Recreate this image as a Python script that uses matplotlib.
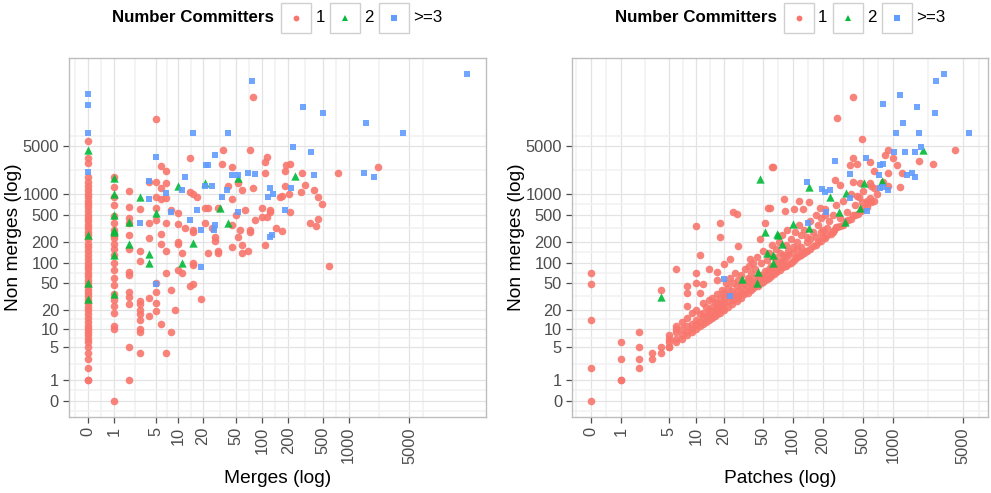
import numpy as np
import matplotlib.pyplot as plt
from matplotlib.patches import Rectangle
from matplotlib.lines import Line2D

plt.rcParams['font.family'] = ['Liberation Sans', 'DejaVu Sans']

# (merges, non merges) per project, by number of committers
merges_one = (
    [(0, v) for v in [1, 1, 2, 3, 4, 5, 6, 7, 8, 9, 10, 11, 13, 15, 17, 20, 22, 25, 28, 32, 36, 40,
                      45, 50, 56, 63, 70, 80, 90, 100, 115, 130, 150, 170, 190, 220, 250, 280, 320,
                      360, 400, 450, 500, 560, 640, 720, 800, 900, 1000, 1150, 1300, 1500, 1800,
                      2800, 3300, 6000]]
    + [(1, v) for v in [0, 10, 11, 18, 23, 28, 35, 47, 60, 78, 100, 130, 160, 190, 230, 250, 300,
                        380, 480, 700, 900, 1250, 1800]]
    + [(2, v) for v in [1, 5, 24, 31, 37, 65, 72, 160, 250, 380, 450, 650, 1100]]
    + [(3, v) for v in [4, 9, 10, 14, 17, 20, 24, 27, 105, 150, 600]]
    + [(4, v) for v in [16, 30, 230, 380, 1500]]
    + [(5, v) for v in [19, 25, 37, 50, 415, 620, 900, 1500, 12500]]
    + [(6, v) for v in [12, 190, 260, 840, 1220, 2600]]
    + [(7, v) for v in [4, 70, 150, 375, 880, 1450, 2200]]
    + [(8, 9), (8, 40), (8, 580), (9, 20), (10, 77), (10, 190), (10, 200), (10, 370), (10, 540),
       (11, 70), (11, 137), (12, 320), (14, 46), (14, 1060), (14, 3400), (15, 49), (15, 91),
       (15, 100), (15, 280), (15, 300), (15, 1000), (17, 900), (19, 29), (21, 375), (21, 620),
       (23, 137), (23, 620), (26, 320), (28, 210), (28, 236), (30, 137), (30, 150), (30, 620),
       (34, 2700), (35, 4350), (40, 1300), (45, 170), (45, 355), (45, 840), (45, 2450), (49, 500),
       (52, 236), (52, 1440), (55, 300), (58, 137), (58, 180), (58, 1150), (63, 580), (68, 150),
       (72, 280), (72, 300), (72, 4350), (78, 1220), (78, 25700), (83, 415), (100, 460),
       (100, 620), (108, 180), (108, 2000), (108, 2900), (113, 460), (113, 3450), (123, 545),
       (123, 580), (145, 320), (160, 900), (170, 290), (170, 950), (185, 1300), (185, 2200),
       (190, 2640), (204, 1000), (210, 545), (210, 2700), (280, 1060), (290, 2000), (315, 1350),
       (360, 375), (395, 1150), (420, 340), (440, 430), (440, 900), (490, 730), (590, 88),
       (750, 2000), (2150, 2500)]
)
merges_two = [(0, 29), (0, 50), (0, 250), (0, 4400), (1, 35), (1, 130), (1, 280), (1, 300),
              (1, 490), (1, 1000), (1, 1700), (2, 190), (2, 390), (3, 900), (4, 100), (4, 135),
              (5, 540), (10, 1300), (11, 100), (15, 192), (21, 1450), (32, 620), (40, 380),
              (52, 1700), (240, 1850)]
merges_three = [(0, 2100), (0, 7700), (0, 20000), (0, 28400), (3, 380), (4, 840), (4, 1550),
                (5, 49), (5, 3450), (7, 1050), (8, 545), (11, 1150), (12, 1800), (14, 415),
                (15, 7700), (17, 580), (19, 85), (19, 300), (21, 1300), (22, 2640), (23, 2640),
                (26, 1300), (27, 300), (28, 355), (28, 3700), (34, 900), (39, 1150), (40, 7800),
                (45, 1900), (52, 545), (52, 1900), (68, 2000), (76, 44000), (83, 1950), (116, 900),
                (123, 236), (123, 1220), (130, 250), (135, 1000), (186, 580), (215, 1220),
                (230, 4800), (300, 18500), (370, 4100), (395, 1900), (510, 15000), (1500, 2000),
                (1600, 10700), (1950, 1800), (4200, 7800), (23000, 55000)]

# (patches, non merges) per project
patches_one = [
    (0, 0), (0, 2), (0, 14), (0, 48), (0, 70), (1, 1), (1, 1), (1, 3), (1, 6), (2, 2), (2, 3),
    (2, 5), (2, 9), (3, 3), (3, 4), (4, 4), (4, 5), (4, 40), (5, 5), (5, 7), (6, 9), (6, 11),
    (6, 82), (8, 23), (8, 36), (8, 46), (10, 51), (10, 70), (10, 340), (11, 36), (11, 130),
    (12, 48), (14, 80), (17, 55), (17, 72), (18, 236), (18, 375), (20, 95), (23, 115), (25, 545),
    (27, 510), (28, 174), (37, 115), (47, 220), (53, 375), (57, 620), (59, 620), (62, 2450),
    (64, 2450), (82, 840), (84, 560), (103, 600), (116, 800), (127, 600), (146, 760), (189, 620),
    (210, 490), (266, 1600), (278, 12800), (298, 1350), (375, 2640), (400, 1500), (400, 3300),
    (400, 25700), (440, 950), (440, 2700), (470, 1440), (494, 760), (494, 6300), (555, 740),
    (595, 870), (595, 1440), (595, 2900), (640, 1220), (640, 2200), (840, 3700), (900, 2000),
    (900, 4400), (1000, 3300), (1100, 2640), (1180, 1250), (1230, 2050), (1800, 3000),
    (2500, 2700), (4100, 4350),
    (5, 5), (5, 6), (6, 6), (6, 7), (7, 7), (7, 8), (7, 10), (8, 8), (8, 9), (8, 11), (9, 9),
    (9, 10), (9, 12), (10, 10), (10, 12), (10, 14), (11, 11), (11, 13), (12, 12), (12, 15),
    (12, 18), (13, 13), (13, 16), (14, 14), (14, 17), (14, 20), (15, 15), (15, 18), (15, 22),
    (16, 16), (16, 20), (17, 17), (17, 21), (17, 25), (18, 18), (18, 23), (19, 20), (19, 24),
    (20, 20), (20, 25), (20, 30), (22, 22), (22, 27), (22, 33), (24, 24), (24, 30), (25, 28),
    (25, 35), (27, 27), (27, 32), (28, 30), (28, 38), (30, 30), (30, 36), (30, 45), (32, 34),
    (33, 40), (35, 36), (35, 44), (36, 55), (38, 40), (38, 48), (40, 42), (40, 52), (42, 45),
    (42, 60), (45, 46), (45, 55), (48, 50), (48, 65), (50, 52), (50, 62), (52, 56), (55, 58),
    (55, 70), (58, 60), (58, 80), (60, 64), (62, 75), (65, 68), (65, 90), (68, 72), (70, 75),
    (70, 95), (72, 85), (75, 78), (78, 100), (80, 85), (80, 110), (85, 90), (85, 120), (90, 95),
    (90, 130), (95, 100), (100, 105), (100, 140), (105, 115), (110, 120), (110, 160), (115, 125),
    (120, 130), (120, 170), (125, 140), (130, 140), (135, 150), (140, 150), (140, 200),
    (150, 160), (150, 220), (160, 175), (170, 180), (170, 240), (180, 200), (190, 210),
    (190, 280), (200, 240), (210, 230), (220, 250), (220, 320), (240, 260), (250, 280),
    (260, 300), (270, 330), (280, 330), (300, 340), (320, 360), (340, 400), (360, 420),
    (380, 440), (400, 500), (420, 500), (450, 520), (480, 560), (500, 620), (550, 650),
    (600, 760), (650, 800),
    (5, 8), (6, 10), (7, 13), (8, 15), (9, 18), (10, 20), (11, 17), (12, 25), (13, 22), (14, 28),
    (15, 30), (16, 26), (17, 35), (18, 30), (19, 40), (20, 36), (21, 50), (22, 42), (23, 60),
    (24, 38), (25, 50), (26, 70), (27, 45), (28, 55), (30, 65), (32, 50), (33, 80), (35, 60),
    (36, 90), (38, 70), (40, 100), (42, 80), (44, 120), (46, 65), (48, 100), (50, 150), (52, 75),
    (55, 110), (58, 140), (60, 90), (62, 180), (65, 120), (68, 160), (70, 110), (72, 200),
    (75, 140), (78, 250), (80, 130), (85, 180), (88, 300), (90, 150), (95, 220), (100, 170),
    (105, 280), (110, 200), (115, 350), (120, 250), (130, 300), (140, 240), (150, 400),
    (160, 280), (170, 500), (180, 350), (190, 450), (200, 300), (210, 600), (230, 400),
    (250, 500), (270, 700), (300, 450), (320, 800), (350, 550), (380, 1000), (420, 700),
    (460, 900), (500, 1100), (550, 800), (600, 1300), (700, 1000), (800, 1500), (900, 1300)]
patches_two = [(4, 31), (31, 57), (44, 50), (45, 72), (47, 1650), (53, 280), (55, 137), (64, 100),
               (64, 130), (70, 260), (71, 250), (78, 185), (100, 365), (146, 320), (146, 1250),
               (237, 900), (291, 545), (334, 390), (342, 1030), (470, 620), (518, 1440),
               (785, 1550), (1980, 4350)]
patches_three = [(20, 57), (23, 32), (139, 1500), (142, 375), (197, 1200), (210, 1060), (216, 545),
                 (237, 1150), (266, 3000), (375, 870), (375, 1950), (542, 3300), (555, 560),
                 (720, 1900), (750, 1220), (750, 2640), (800, 1250), (800, 2700), (800, 20500),
                 (900, 1150), (1030, 4100), (1080, 7700), (1180, 28000), (1260, 10700),
                 (1320, 4100), (1380, 1900), (1530, 2000), (1650, 1750), (1650, 4100),
                 (1740, 18500), (1800, 7800), (1900, 4800), (2640, 15000), (2700, 44000),
                 (3240, 55000), (5700, 7800)]

breaks = [0, 1, 5, 10, 20, 50, 100, 200, 500, 1000, 5000]
groups = ['1', '2', '>=3']
colors = ['#F8766D', '#00BA38', '#619CFF']
markers = ['o', '^', 's']
sizes = [30, 36, 25]


def fwd(v):
    return np.log10(np.clip(np.asarray(v, dtype=float) + 1, 1e-12, None))


def inv(t):
    return 10 ** np.asarray(t, dtype=float) - 1


def limits(vals):
    t = fwd(vals)
    span = t.max() - t.min()
    return t.min() - 0.05 * span, t.max() + 0.05 * span


def minor_breaks(lo, hi):
    b = list(fwd(breaks))
    bd = b[1] - b[0]
    if lo < b[0]:
        b = [b[0] - bd] + b
    if hi > b[-1]:
        b = b + [b[-1] + bd]
    mids = [(a + c) / 2 for a, c in zip(b[:-1], b[1:])]
    return [m for m in mids if lo <= m <= hi]


W, H = 991, 493
fig = plt.figure(figsize=(W / 100, H / 100), dpi=100)
ax1 = fig.add_axes([69 / W, 76 / H, 417 / W, 359 / H])
ax2 = fig.add_axes([572 / W, 76 / H, 416 / W, 359 / H])

panels = [(ax1, [merges_one, merges_two, merges_three], 'Merges (log)'),
          (ax2, [patches_one, patches_two, patches_three], 'Patches (log)')]

all_y = [p[1] for s in (merges_one, merges_two, merges_three,
                        patches_one, patches_two, patches_three) for p in s]
ylo, yhi = limits(all_y)

for ax, series, xlabel in panels:
    for pts, c, m, s in zip(series, colors, markers, sizes):
        xs = [p[0] for p in pts]
        ys = [p[1] for p in pts]
        ax.scatter(xs, ys, s=s, c=c, marker=m, linewidths=0, alpha=0.9, zorder=3)
    ax.set_xscale('function', functions=(fwd, inv))
    ax.set_yscale('function', functions=(fwd, inv))
    xlo, xhi = limits([p[0] for pts in series for p in pts])
    ax.set_xlim(inv(xlo), inv(xhi))
    ax.set_ylim(inv(ylo), inv(yhi))
    ax.set_xticks(breaks)
    ax.set_xticklabels([str(b) for b in breaks], rotation=90)
    ax.set_yticks(breaks)
    ax.set_yticklabels([str(b) for b in breaks])
    ax.set_xticks(inv(minor_breaks(xlo, xhi)), minor=True)
    ax.set_yticks(inv(minor_breaks(ylo, yhi)), minor=True)
    ax.grid(which='major', color='#E3E3E3', lw=0.9, zorder=0)
    ax.grid(which='minor', color='#F1F1F1', lw=1.1, zorder=0)
    ax.set_axisbelow(True)
    ax.tick_params(which='major', length=4.5, width=0.9, color='#4D4D4D', pad=2.7,
                   labelsize=11.8, labelcolor='#4D4D4D')
    ax.tick_params(which='minor', length=0)
    for sp in ax.spines.values():
        sp.set_color('#BDBDBD')
        sp.set_linewidth(1.0)
    ax.set_xlabel(xlabel, fontsize=13.8, labelpad=5)
    ax.set_ylabel('Non merges (log)', fontsize=13.8)
    ax.yaxis.set_label_coords(-47.5 / 417, 0.5)

# legends on top, title on the left of the keys
fig.canvas.draw()
renderer = fig.canvas.get_renderer()


def text_width(t):
    return t.get_window_extent(renderer).width


for ax in (ax1, ax2):
    bb = ax.get_position()
    cx = (bb.x0 + bb.x1) / 2 * W
    cy = H - 18
    title = fig.text(0, cy / H, 'Number Committers', fontsize=12.2, fontweight='bold',
                     va='center', ha='left')
    labels = [fig.text(0, cy / H, g, fontsize=12.2, va='center', ha='left') for g in groups]
    box, gap_title, gap_lab, gap_key = 30, 7, 4.5, 5
    total = text_width(title) + gap_title
    total += sum(box + gap_lab + text_width(l) for l in labels) + gap_key * 2
    x = cx - total / 2
    title.set_x(x / W)
    x += text_width(title) + gap_title
    for lab, c, m in zip(labels, colors, markers):
        fig.add_artist(Rectangle((x / W, (cy - box / 2) / H), box / W, box / H,
                                 facecolor='white', edgecolor='#D0D0D0', lw=1.0,
                                 transform=fig.transFigure))
        fig.add_artist(Line2D([(x + box / 2) / W], [cy / H], marker=m, color=c, ls='none',
                              markersize=4.2 if m != 's' else 3.8, markeredgewidth=0,
                              transform=fig.transFigure))
        x += box + gap_lab
        lab.set_x(x / W)
        x += text_width(lab) + gap_key

fig.savefig('out.png', dpi=100)
